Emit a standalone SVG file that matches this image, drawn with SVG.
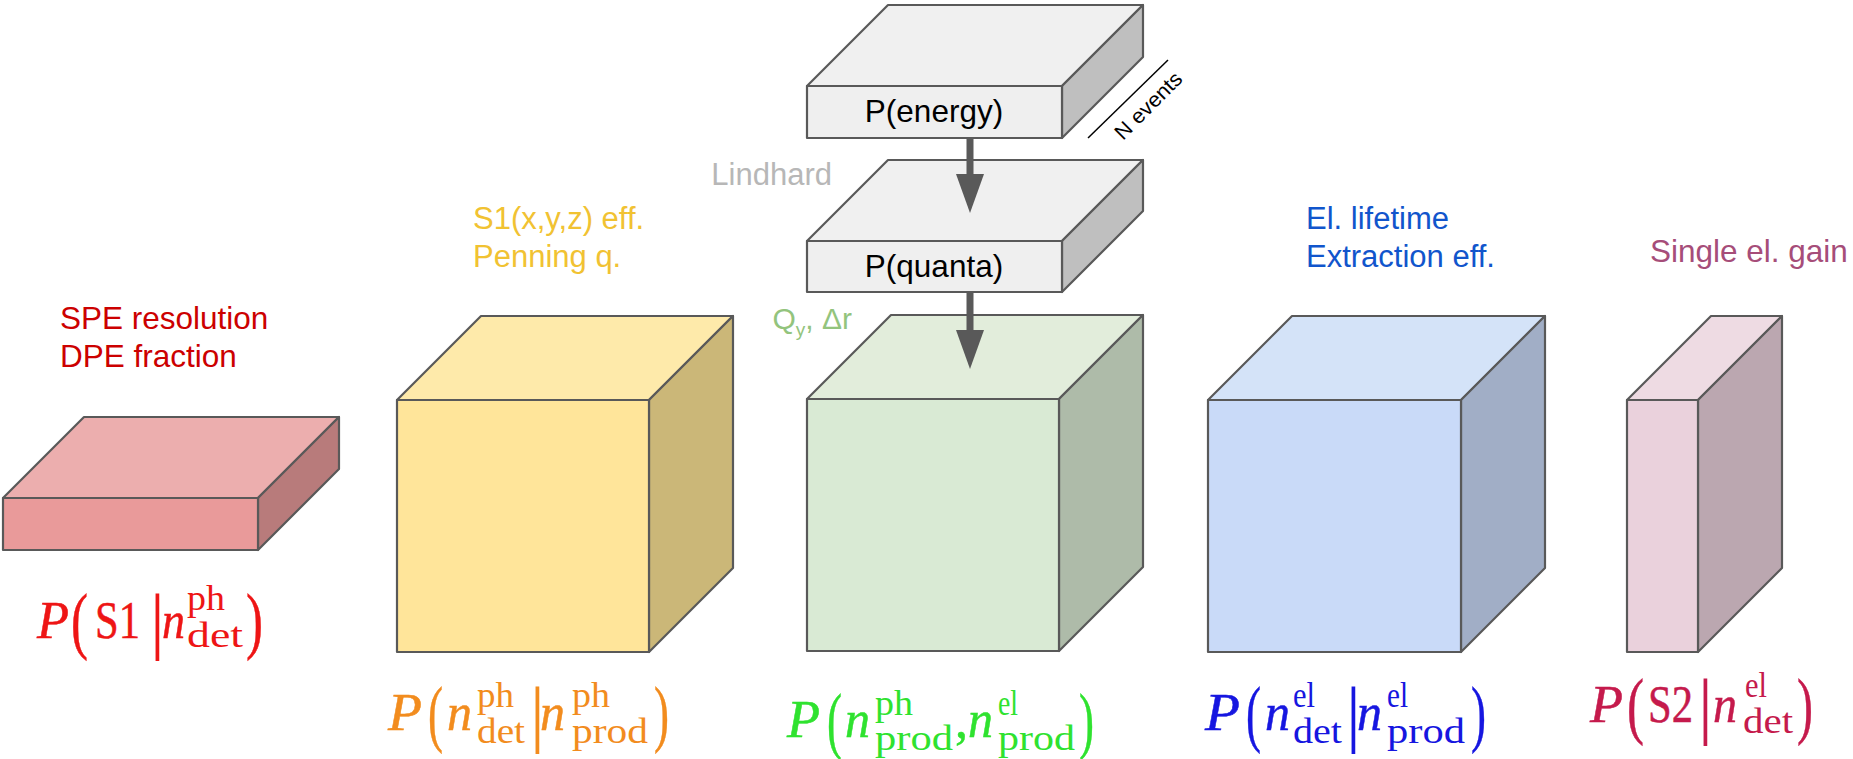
<svg xmlns="http://www.w3.org/2000/svg" width="1853" height="759" viewBox="0 0 1853 759">
<style>
.f{stroke:#595959;stroke-width:2.2;stroke-linejoin:round}
.lb{font-family:"Liberation Sans",Arial,sans-serif;font-size:31px}
.m{font-family:"Liberation Serif","Times New Roman",serif;stroke-width:0.5}
.i{font-style:italic}
.big{font-size:74px}
.bar{font-size:74px;stroke:none}
.main{font-size:52px}
.sc{font-size:36px;stroke:none}
.red{fill:#ee1515;stroke:#ee1515}.org{fill:#f28c1e;stroke:#f28c1e}.grn{fill:#2fe22f;stroke:#2fe22f}.blu{fill:#1616e0;stroke:#1616e0}.crm{fill:#c51a4c;stroke:#c51a4c}
</style>
<defs>
<marker id="ah" markerUnits="userSpaceOnUse" markerWidth="40" markerHeight="28" refX="0" refY="14" orient="auto" viewBox="0 0 40 28">
<path d="M0,0 L39,14 L0,28 Z" fill="#595959"/>
</marker>
</defs>
<rect width="1853" height="759" fill="#ffffff"/>

<g id="s1-slab">
<polygon class="f" points="3,498 84,417 339,417 258,498" fill="#ecaeae"/>
<polygon class="f" points="258,498 339,417 339,469 258,550" fill="#b87b7b"/>
<rect class="f" x="3" y="498" width="255" height="52" fill="#e99a9a"/>
<text class="lb" x="60" y="329" fill="#cc0000" style="font-size:31.5px">SPE resolution</text>
<text class="lb" x="60" y="367" fill="#cc0000" style="font-size:31.5px">DPE fraction</text>
<g class="m red">
<text class="i main" x="37" y="638" textLength="32" lengthAdjust="spacingAndGlyphs">P</text>
<text class="big" x="71" y="645" textLength="17" lengthAdjust="spacingAndGlyphs">(</text>
<text class="main" x="95" y="638" textLength="45" lengthAdjust="spacingAndGlyphs">S1</text>
<text class="bar" x="150" y="645">|</text>
<text class="i main" x="162" y="638" textLength="23" lengthAdjust="spacingAndGlyphs">n</text>
<text class="sc" x="187" y="610" textLength="38" lengthAdjust="spacingAndGlyphs">ph</text>
<text class="sc" x="187" y="647" textLength="56" lengthAdjust="spacingAndGlyphs">det</text>
<text class="big" x="246" y="645" textLength="17" lengthAdjust="spacingAndGlyphs">)</text>
</g>
</g>

<g id="ph-det-cube">
<polygon class="f" points="397,400 481,316 733,316 649,400" fill="#feeaaa"/>
<polygon class="f" points="649,400 733,316 733,568 649,652" fill="#cbb778"/>
<rect class="f" x="397" y="400" width="252" height="252" fill="#ffe59a"/>
<text class="lb" x="473" y="229" fill="#f1c232">S1(x,y,z) eff.</text>
<text class="lb" x="473" y="267" fill="#f1c232">Penning q.</text>
<g class="m org">
<text class="i main" x="388" y="730" textLength="34" lengthAdjust="spacingAndGlyphs">P</text>
<text class="big" x="428" y="738" textLength="15" lengthAdjust="spacingAndGlyphs">(</text>
<text class="i main" x="447" y="730" textLength="25" lengthAdjust="spacingAndGlyphs">n</text>
<text class="sc" x="477" y="707" textLength="37" lengthAdjust="spacingAndGlyphs">ph</text>
<text class="sc" x="477" y="743" textLength="48" lengthAdjust="spacingAndGlyphs">det</text>
<text class="bar" x="530" y="738">|</text>
<text class="i main" x="540" y="730" textLength="25" lengthAdjust="spacingAndGlyphs">n</text>
<text class="sc" x="572" y="707" textLength="38" lengthAdjust="spacingAndGlyphs">ph</text>
<text class="sc" x="572" y="743" textLength="76" lengthAdjust="spacingAndGlyphs">prod</text>
<text class="big" x="654" y="738" textLength="15" lengthAdjust="spacingAndGlyphs">)</text>
</g>
</g>

<g id="energy-slab">
<polygon class="f" points="807,86 888,5 1143,5 1062,86" fill="#f0f0f0"/>
<polygon class="f" points="1062,86 1143,5 1143,57 1062,138" fill="#bfbfbf"/>
<rect class="f" x="807" y="86" width="255" height="52" fill="#efefef"/>
<text class="lb" x="934" y="122" text-anchor="middle" fill="#000000" style="font-size:31.5px">P(energy)</text>
</g>

<g id="n-events">
<line x1="1088" y1="138" x2="1168" y2="60" stroke="#000000" stroke-width="1.5"/>
<text class="lb" x="1123" y="141" transform="rotate(-45 1123 141)" style="font-size:21px" textLength="86" lengthAdjust="spacingAndGlyphs" fill="#000000">N events</text>
</g>

<g id="quanta-slab">
<polygon class="f" points="807,241 888,160 1143,160 1062,241" fill="#f0f0f0"/>
<polygon class="f" points="1062,241 1143,160 1143,211 1062,292" fill="#bfbfbf"/>
<rect class="f" x="807" y="241" width="255" height="51" fill="#efefef"/>
<text class="lb" x="934" y="277" text-anchor="middle" fill="#000000" style="font-size:31.5px">P(quanta)</text>
<text class="lb" x="832" y="185" text-anchor="end" fill="#b7b7b7">Lindhard</text>
</g>

<g id="prod-cube">
<polygon class="f" points="807,399 891,315 1143,315 1059,399" fill="#e2eddb"/>
<polygon class="f" points="1059,399 1143,315 1143,567 1059,651" fill="#aebba9"/>
<rect class="f" x="807" y="399" width="252" height="252" fill="#d9ead4"/>
<text class="lb" x="852" y="329" text-anchor="end" fill="#93c47d" style="font-size:30px">Q<tspan dy="7" style="font-size:19px">y</tspan><tspan dy="-7">, Δr</tspan></text>
<g class="m grn">
<text class="i main" x="787" y="737" textLength="33" lengthAdjust="spacingAndGlyphs">P</text>
<text class="big" x="827" y="745" textLength="15" lengthAdjust="spacingAndGlyphs">(</text>
<text class="i main" x="845" y="737" textLength="25" lengthAdjust="spacingAndGlyphs">n</text>
<text class="sc" x="875" y="715" textLength="38" lengthAdjust="spacingAndGlyphs">ph</text>
<text class="sc" x="875" y="750" textLength="78" lengthAdjust="spacingAndGlyphs">prod</text>
<text class="main" x="955" y="737">,</text>
<text class="i main" x="968" y="737" textLength="25" lengthAdjust="spacingAndGlyphs">n</text>
<text class="sc" x="998" y="715" textLength="20" lengthAdjust="spacingAndGlyphs">el</text>
<text class="sc" x="998" y="750" textLength="77" lengthAdjust="spacingAndGlyphs">prod</text>
<text class="big" x="1079" y="745" textLength="15" lengthAdjust="spacingAndGlyphs">)</text>
</g>
</g>

<g id="el-det-cube">
<polygon class="f" points="1208,400 1292,316 1545,316 1461,400" fill="#d4e3f8"/>
<polygon class="f" points="1461,400 1545,316 1545,568 1461,652" fill="#a1aec6"/>
<rect class="f" x="1208" y="400" width="253" height="252" fill="#c9daf8"/>
<text class="lb" x="1306" y="229" fill="#1155cc">El. lifetime</text>
<text class="lb" x="1306" y="267" fill="#1155cc">Extraction eff.</text>
<g class="m blu">
<text class="i main" x="1205" y="730" textLength="35" lengthAdjust="spacingAndGlyphs">P</text>
<text class="big" x="1246" y="738" textLength="15" lengthAdjust="spacingAndGlyphs">(</text>
<text class="i main" x="1265" y="730" textLength="25" lengthAdjust="spacingAndGlyphs">n</text>
<text class="sc" x="1293" y="707" textLength="22" lengthAdjust="spacingAndGlyphs">el</text>
<text class="sc" x="1293" y="743" textLength="49" lengthAdjust="spacingAndGlyphs">det</text>
<text class="bar" x="1346" y="738">|</text>
<text class="i main" x="1357" y="730" textLength="25" lengthAdjust="spacingAndGlyphs">n</text>
<text class="sc" x="1387" y="707" textLength="21" lengthAdjust="spacingAndGlyphs">el</text>
<text class="sc" x="1387" y="743" textLength="78" lengthAdjust="spacingAndGlyphs">prod</text>
<text class="big" x="1471" y="738" textLength="15" lengthAdjust="spacingAndGlyphs">)</text>
</g>
</g>

<g id="s2-slab">
<polygon class="f" points="1627,400 1711,316 1782,316 1698,400" fill="#eedbe3"/>
<polygon class="f" points="1698,400 1782,316 1782,568 1698,652" fill="#bba7b0"/>
<rect class="f" x="1627" y="400" width="71" height="252" fill="#ead1dc"/>
<text class="lb" x="1650" y="262" fill="#a64d79" style="font-size:31.5px">Single el. gain</text>
<g class="m crm">
<text class="i main" x="1590" y="722" textLength="33" lengthAdjust="spacingAndGlyphs">P</text>
<text class="big" x="1627" y="730" textLength="17" lengthAdjust="spacingAndGlyphs">(</text>
<text class="main" x="1648" y="722" textLength="45" lengthAdjust="spacingAndGlyphs">S2</text>
<text class="bar" x="1698" y="730">|</text>
<text class="i main" x="1713" y="722" textLength="24" lengthAdjust="spacingAndGlyphs">n</text>
<text class="sc" x="1745" y="697" textLength="22" lengthAdjust="spacingAndGlyphs">el</text>
<text class="sc" x="1743" y="733" textLength="50" lengthAdjust="spacingAndGlyphs">det</text>
<text class="big" x="1797" y="730" textLength="16" lengthAdjust="spacingAndGlyphs">)</text>
</g>
</g>

<g id="connectors">
<line x1="970" y1="138" x2="970" y2="174" stroke="#595959" stroke-width="7" marker-end="url(#ah)"/>
<line x1="970" y1="292" x2="970" y2="330" stroke="#595959" stroke-width="7" marker-end="url(#ah)"/>
</g>
</svg>
